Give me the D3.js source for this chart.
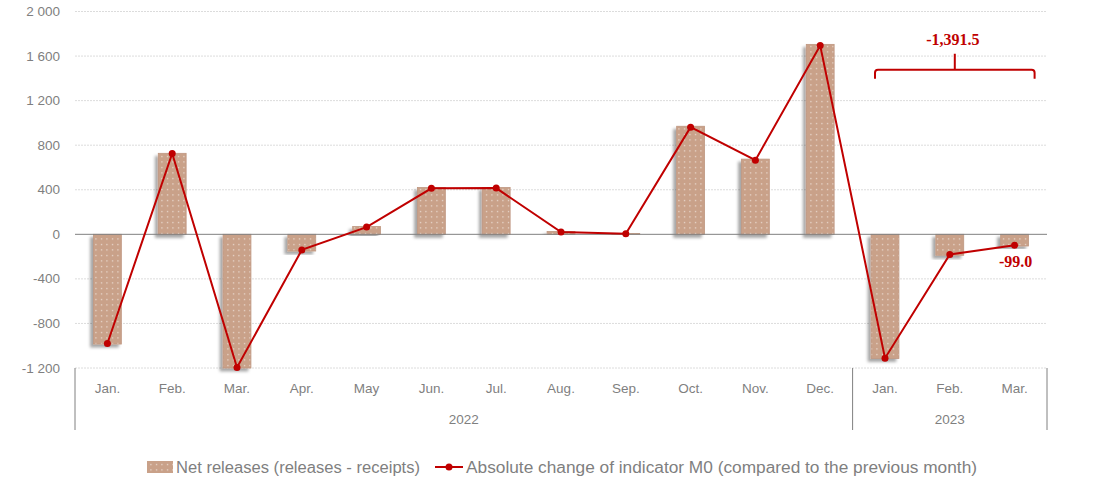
<!DOCTYPE html>
<head>
<meta charset="utf-8">
<title>Net releases and M0</title>
<script src="https://cdn.jsdelivr.net/npm/d3@7"></script>
</head>
<style>
    body { margin: 0; background: white; }
    text { font-family: "Liberation Sans", Arial, sans-serif; }
</style>
<body>
<svg id="chart" width="1094" height="502"></svg>
</body>
<script>

    // data
    var months = ["Jan.", "Feb.", "Mar.", "Apr.", "May", "Jun.", "Jul.", "Aug.", "Sep.", "Oct.", "Nov.", "Dec.", "Jan.", "Feb.", "Mar."]
    var years = ["2022", "2022", "2022", "2022", "2022", "2022", "2022", "2022", "2022", "2022", "2022", "2022", "2023", "2023", "2023"]
    var netReleases = [-985, 727, -1200, -150, 70, 420, 420, 25, 8, 970, 675, 1705, -1115, -188, -105]
    var m0Change = [-980, 725, -1195, -140, 65, 413, 415, 20, 5, 962, 665, 1695, -1112, -180.5, -99]
    var yTicks = [-1200, -800, -400, 0, 400, 800, 1200, 1600, 2000]
    var seriesNames = ["Net releases (releases - receipts)", "Absolute change of indicator M0 (compared to the previous month)"]
    var sumLabel = "-1,391.5"
    var lastLabel = "-99.0"

    var keys = months.map((m, i) => m + " " + years[i])
    var barColour = "#c9a189"
    var lineColour = "#c00000"
    var grey = "#7f7f7f"

    var svg = d3.select("#chart")
    var plotLeft = 75, plotRight = 1047, plotTop = 11.5, plotBottom = 368

    var x = d3.scaleBand().domain(keys).range([plotLeft, plotRight]).paddingInner(0.57).paddingOuter(0.285)
    var y = d3.scaleLinear().domain([-1200, 2000]).range([plotBottom, plotTop])

    // "2 000", "-1 200" style labels
    function tickFmt(d) {
        return (d < 0 ? "-" : "") + d3.format(",")(Math.abs(d)).replace(/,/g, " ")
    }

    var defs = svg.append("defs")
    var pat = defs.append("pattern")
        .attr("id", "dots")
        .attr("patternUnits", "userSpaceOnUse")
        .attr("width", 5.5).attr("height", 5.5)
    pat.append("rect").attr("width", 5.5).attr("height", 5.5).attr("fill", barColour)
    pat.append("rect").attr("x", 2).attr("y", 2).attr("width", 1).attr("height", 1).attr("fill", "white")

    var sh = defs.append("filter").attr("id", "shadow")
        .attr("x", "-50%").attr("y", "-20%").attr("width", "200%").attr("height", "140%")
    sh.append("feDropShadow")
        .attr("dx", -3).attr("dy", 3).attr("stdDeviation", 1.8)
        .attr("flood-color", "#000").attr("flood-opacity", 0.35)

    // gridlines
    svg.append("g").selectAll("line")
        .data(yTicks.filter(d => d != 0))
        .enter().append("line")
        .attr("x1", plotLeft).attr("x2", plotRight)
        .attr("y1", d => y(d)).attr("y2", d => y(d))
        .attr("stroke", "#dcdcdc")
        .attr("stroke-dasharray", "2,1")

    // y axis labels
    svg.append("g").selectAll("text")
        .data(yTicks)
        .enter().append("text")
        .attr("x", 60)
        .attr("y", d => y(d) + 4.5)
        .attr("text-anchor", "end")
        .style("font-size", "13.5px")
        .attr("fill", grey)
        .text(tickFmt)

    // bars
    svg.append("g").selectAll("rect")
        .data(netReleases)
        .enter().append("rect")
        .attr("x", (d, i) => x(keys[i]))
        .attr("width", x.bandwidth())
        .attr("y", d => y(Math.max(0, d)))
        .attr("height", d => Math.abs(y(d) - y(0)))
        .attr("fill", "url(#dots)")
        .attr("stroke", "#bf9780")
        .attr("stroke-width", 0.8)
        .attr("filter", "url(#shadow)")

    // zero line
    svg.append("line")
        .attr("x1", plotLeft).attr("x2", plotRight)
        .attr("y1", y(0)).attr("y2", y(0))
        .attr("stroke", "#808080").attr("stroke-width", 1)

    // line series
    var cx = i => x(keys[i]) + x.bandwidth() / 2
    var line = d3.line().x((d, i) => cx(i)).y(d => y(d))
    svg.append("path")
        .datum(m0Change)
        .attr("d", line)
        .attr("fill", "none")
        .attr("stroke", lineColour)
        .attr("stroke-width", 2)
    svg.append("g").selectAll("circle")
        .data(m0Change)
        .enter().append("circle")
        .attr("cx", (d, i) => cx(i))
        .attr("cy", d => y(d))
        .attr("r", 3.5)
        .attr("fill", lineColour)

    // category axis, two levels
    svg.append("g").selectAll("text")
        .data(months)
        .enter().append("text")
        .attr("x", (d, i) => cx(i))
        .attr("y", 393)
        .attr("text-anchor", "middle")
        .style("font-size", "13.5px")
        .attr("fill", grey)
        .text(d => d)

    var yearGroups = d3.groups(keys.map((k, i) => ({ k: k, yr: years[i] })), d => d.yr)
    var sepX = [plotLeft]
    yearGroups.forEach(g => {
        var last = g[1][g[1].length - 1].k
        sepX.push(x(last) + x.step() - x.step() * x.paddingInner() / 2)
    })
    sepX[sepX.length - 1] = plotRight
    svg.append("g").selectAll("line")
        .data(sepX)
        .enter().append("line")
        .attr("x1", d => d).attr("x2", d => d)
        .attr("y1", plotBottom).attr("y2", 430)
        .attr("stroke", "#808080").attr("stroke-width", 1)
    svg.append("g").selectAll("text")
        .data(yearGroups)
        .enter().append("text")
        .attr("x", (d, i) => (sepX[i] + sepX[i + 1]) / 2)
        .attr("y", 424)
        .attr("text-anchor", "middle")
        .style("font-size", "13.5px")
        .attr("fill", grey)
        .text(d => d[0])

    // bracket over 2023
    var bx1 = cx(12) - 10, bx2 = cx(14) + 20, by = y(1477), bmid = (bx1 + bx2) / 2
    svg.append("path")
        .attr("d", "M" + bx1 + "," + (by + 9) + " L" + bx1 + "," + (by + 3) + " Q" + bx1 + "," + by + " " + (bx1 + 3) + "," + by +
            " L" + (bx2 - 3) + "," + by + " Q" + bx2 + "," + by + " " + bx2 + "," + (by + 3) + " L" + bx2 + "," + (by + 9) +
            " M" + bmid + "," + by + " L" + bmid + "," + (by - 16))
        .attr("fill", "none")
        .attr("stroke", lineColour)
        .attr("stroke-width", 2)
    svg.append("text")
        .attr("x", bmid - 2)
        .attr("y", 45)
        .attr("text-anchor", "middle")
        .style("font", "bold 16px 'Liberation Serif', 'Times New Roman', serif")
        .attr("fill", lineColour)
        .text(sumLabel)
    svg.append("text")
        .attr("x", cx(14) + 1)
        .attr("y", y(m0Change[14]) + 22)
        .attr("text-anchor", "middle")
        .style("font", "bold 16px 'Liberation Serif', 'Times New Roman', serif")
        .attr("fill", lineColour)
        .text(lastLabel)

    // legend
    var lg = svg.append("g")
    lg.append("rect")
        .attr("x", 147).attr("y", 461).attr("width", 26).attr("height", 12)
        .attr("fill", "url(#dots)")
    lg.append("text")
        .attr("x", 176).attr("y", 473)
        .style("font-size", "16px")
        .attr("textLength", 244).attr("lengthAdjust", "spacingAndGlyphs")
        .attr("fill", grey)
        .text(seriesNames[0])
    lg.append("line")
        .attr("x1", 435).attr("x2", 463).attr("y1", 467).attr("y2", 467)
        .attr("stroke", lineColour).attr("stroke-width", 2)
    lg.append("circle")
        .attr("cx", 449).attr("cy", 467).attr("r", 3.5).attr("fill", lineColour)
    lg.append("text")
        .attr("x", 466).attr("y", 473)
        .style("font-size", "16px")
        .attr("textLength", 511).attr("lengthAdjust", "spacingAndGlyphs")
        .attr("fill", grey)
        .text(seriesNames[1])

</script>
</html>
